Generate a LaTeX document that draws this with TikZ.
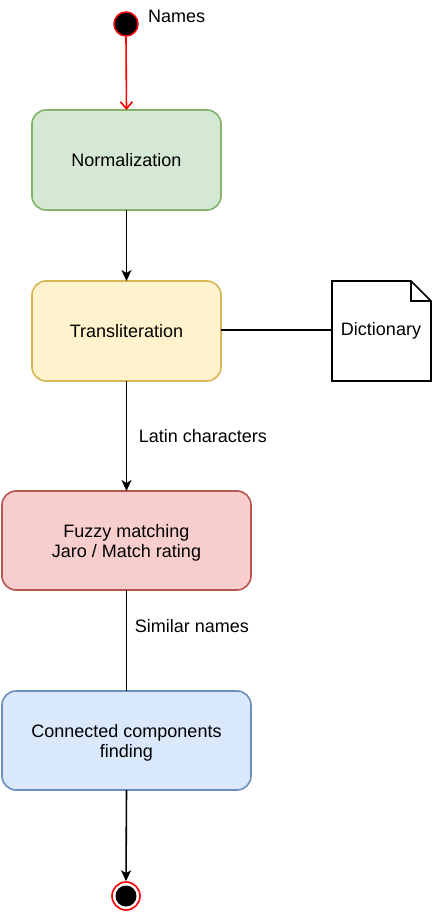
\documentclass[tikz,border=0pt]{standalone}
\usepackage{fontspec}
\setmainfont{Liberation Sans}
\usetikzlibrary{arrows.meta,shapes.misc,calc}
\definecolor{gfill}{HTML}{D5E8D4}\definecolor{gline}{HTML}{82B366}
\definecolor{yfill}{HTML}{FFF2CC}\definecolor{yline}{HTML}{D6B656}
\definecolor{rfill}{HTML}{F8CECC}\definecolor{rline}{HTML}{B85450}
\definecolor{bfill}{HTML}{DAE8FC}\definecolor{bline}{HTML}{6C8EBF}
\tikzset{
  stepbox/.style={rounded corners=14pt, line width=1.6pt},
  txt/.style={font=\fontsize{18}{20}\selectfont, align=center, inner sep=0pt},
  lbl/.style={font=\fontsize{18}{20}\selectfont, anchor=west, inner sep=0pt},
  arr/.style={line width=1.6pt, -{Stealth[length=11pt,width=10pt,inset=3pt]}},
  redarr/.style={line width=1.6pt, red, -{Straight Barb[length=7pt,width=12pt]}},
  conn/.style={line width=1.6pt},
}
\begin{document}
\begin{tikzpicture}[x=1pt,y=-1pt]
\useasboundingbox (0,0) rectangle (432,912);
% start
\node[circle, fill=black, draw=red, line width=1.5pt, minimum size=24pt, inner sep=0pt] (start) at (126,24) {};
\node[lbl] (names) at (148,16.5) {Names};
% boxes
\draw[stepbox, fill=gfill, draw=gline] (32,110) rectangle (221,210);
\node[txt] (norm) at (126.5,160.5) {Normalization};
\coordinate (normT) at (126.5,110); \coordinate (normB) at (126.5,210);
\draw[stepbox, fill=yfill, draw=yline] (32,281) rectangle (221,381);
\node[txt] (trans) at (126.5,331) {Transliteration};
\coordinate (transT) at (126.5,281); \coordinate (transB) at (126.5,381); \coordinate (transR) at (221,330);
\draw[stepbox, fill=rfill, draw=rline] (2,491) rectangle (251,590);
\node[txt] (fuzzy) at (126.5,542.5) {Fuzzy matching\\Jaro / Match rating};
\coordinate (fuzzyT) at (126.5,491); \coordinate (fuzzyB) at (126.5,590);
\draw[stepbox, fill=bfill, draw=bline] (2,691) rectangle (251,790);
\node[txt] (conc) at (126.5,742.5) {Connected components\\finding};
\coordinate (concT) at (126.5,691); \coordinate (concB) at (126.5,790);
% dictionary note
\draw[line width=1.6pt, fill=white] (332,281) -- (411,281) -- (431,301) -- (431,381) -- (332,381) -- cycle;
\draw[line width=1.6pt] (411,281) -- (411,301) -- (431,301);
\node[txt] (dict) at (381,331) {Dictionary};
\coordinate (dictL) at (332,330);
% end
\node[circle, draw=red, line width=1.6pt, minimum size=28pt, inner sep=0pt] (endo) at (126,896) {};
\node[circle, fill=black, minimum size=21pt, inner sep=0pt] (endi) at (126,896) {};
% connectors
\draw[redarr] (start.south) -- (normT);
\draw[arr] (normB) -- (transT);
\draw[conn] (transR) -- (dictL);
\draw[arr] (transB) -- (fuzzyT) node[lbl, pos=0.5, xshift=11.5pt] (latin) {Latin characters};
\draw[conn] (fuzzyB) -- (concT) node[lbl, pos=0.36, xshift=7.5pt] (simil) {Similar names};
\draw[arr] (concB) -- (endo.north);
\end{tikzpicture}
\end{document}
